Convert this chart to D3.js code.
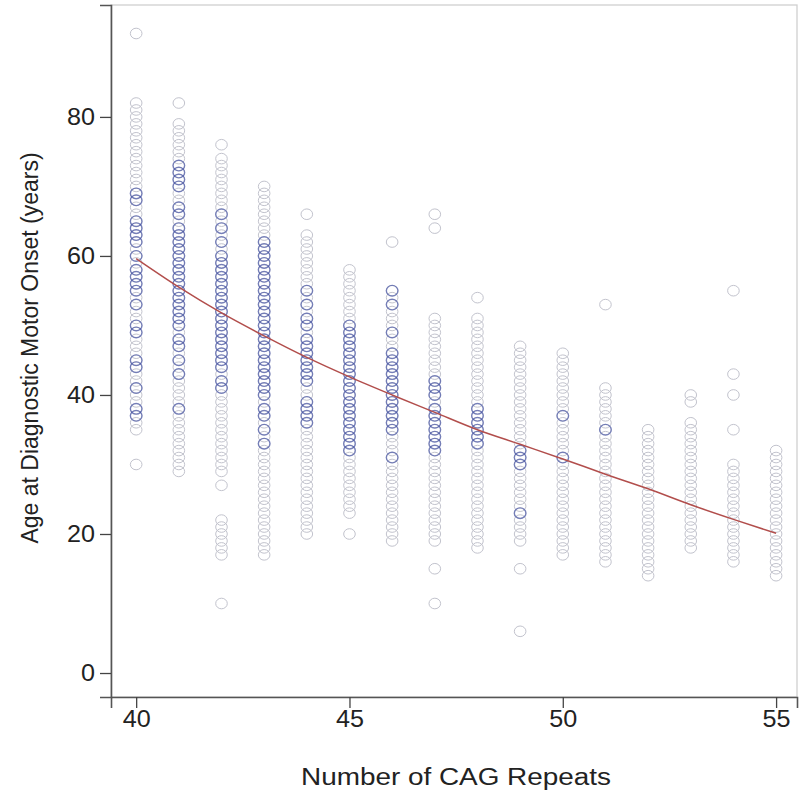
<!DOCTYPE html>
<html><head><meta charset="utf-8">
<script src="https://cdn.jsdelivr.net/npm/d3@7"></script>
<style>body{margin:0;background:#fff;}svg{display:block;font-family:"Liberation Sans",Arial,sans-serif;}</style>
</head><body><svg id="c" width="800" height="796"></svg>
<script>
const cagRepeats = [40,41,42,43,44,45,46,47,48,49,50,51,52,53,54,55];
const greyAges = [
  [92,82,81,80,79,78,77,76,75,74,73,72,71,70,69,68,67,66,65,64,63,62,61,60,59,58,57,56,55,54,53,52,51,50,49,48,47,46,45,44,43,42,41,40,39,38,37,36,35,30],
  [82,79,78,77,76,75,74,73,72,71,70,69,68,67,66,65,64,63,62,61,60,59,58,57,56,55,54,53,52,51,50,49,48,47,46,45,44,43,42,41,40,39,38,37,36,35,34,33,32,31,30,29],
  [76,74,73,72,71,70,69,68,67,66,65,64,63,62,61,60,59,58,57,56,55,54,53,52,51,50,49,48,47,46,45,44,43,42,41,40,39,38,37,36,35,34,33,32,31,30,29,27,22,21,20,19,18,17,10],
  [70,69,68,67,66,65,64,63,62,61,60,59,58,57,56,55,54,53,52,51,50,49,48,47,46,45,44,43,42,41,40,39,38,37,36,35,34,33,32,31,30,29,28,27,26,25,24,23,22,21,20,19,18,17],
  [66,63,62,61,60,59,58,57,56,55,54,53,52,51,50,49,48,47,46,45,44,43,42,41,40,39,38,37,36,35,34,33,32,31,30,29,28,27,26,25,24,23,22,21,20],
  [58,57,56,55,54,53,52,51,50,49,48,47,46,45,44,43,42,41,40,39,38,37,36,35,34,33,32,31,30,29,28,27,26,25,24,23,20],
  [62,55,54,53,52,51,50,49,48,47,46,45,44,43,42,41,40,39,38,37,36,35,34,33,32,31,30,29,28,27,26,25,24,23,22,21,20,19],
  [66,64,51,50,49,48,47,46,45,44,43,42,41,40,39,38,37,36,35,34,33,32,31,30,29,28,27,26,25,24,23,22,21,20,19,15,10],
  [54,51,50,49,48,47,46,45,44,43,42,41,40,39,38,37,36,35,34,33,32,31,30,29,28,27,26,25,24,23,22,21,20,19,18],
  [47,46,45,44,43,42,41,40,39,38,37,36,35,34,33,32,31,30,29,28,27,26,25,24,23,22,21,20,19,15,6],
  [46,45,44,43,42,41,40,39,38,37,36,35,34,33,32,31,30,29,28,27,26,25,24,23,22,21,20,19,18,17],
  [53,41,40,39,38,37,36,35,34,33,32,31,30,29,28,27,26,25,24,23,22,21,20,19,18,17,16],
  [35,34,33,32,31,30,29,28,27,26,25,24,23,22,21,20,19,18,17,16,15,14],
  [40,39,36,35,34,33,32,31,30,29,28,27,26,25,24,23,22,21,20,19,18],
  [55,43,40,35,30,29,28,27,26,25,24,23,22,21,20,19,18,17,16],
  [32,31,30,29,28,27,26,25,24,23,22,21,20,19,18,17,16,15,14]
];
const blueAges = [
  [69,68,65,64,63,62,60,58,57,56,55,53,50,49,45,44,41,38,37],
  [73,72,71,70,67,66,64,63,62,61,60,59,58,57,56,55,54,53,52,51,50,48,47,45,43,38],
  [66,64,62,60,59,58,57,56,55,54,53,52,51,50,49,48,47,46,45,44,42,41],
  [62,61,60,59,58,57,56,55,54,53,52,51,50,49,48,47,46,45,44,43,42,41,40,38,37,35,33],
  [55,53,51,50,48,47,46,45,44,43,42,39,38,37,36],
  [50,49,48,47,46,45,44,43,42,41,40,39,38,37,36,35,34,33,32],
  [55,53,49,46,45,44,43,42,41,40,39,38,37,36,35,31],
  [42,41,40,38,37,36,35,34,33,32],
  [38,37,36,35,34,33],
  [32,31,30,23],
  [37,31],
  [35],
  [],[],[],[]
];
const fitAges = [59.6,55.5,51.8,48.5,45.4,42.6,40.0,37.5,35.0,32.9,30.8,28.6,26.5,24.2,22.1,20.1];
const xTicks = [40,45,50,55];
const yTicks = [0,20,40,60,80];
const xTitle = "Number of CAG Repeats";
const yTitle = "Age at Diagnostic Motor Onset (years)";

const svg = d3.select("#c");
const L = 111, R = 797, T = 5, B = 697;
const x = d3.scaleLinear().domain([39.41, 55.49]).range([L, R]);
const y = d3.scaleLinear().domain([-3.45, 96.1]).range([B, T]);
const FONT = '"Liberation Sans",Arial,sans-serif';

// frame
svg.append("rect").attr("x", L).attr("y", T).attr("width", R - L).attr("height", B - T)
  .attr("fill", "none").attr("stroke", "#d0d0d0").attr("stroke-width", 1.3);

const greyPts = [], bluePts = [];
cagRepeats.forEach((c, i) => {
  greyAges[i].forEach(a => greyPts.push({c, a}));
  blueAges[i].forEach(a => bluePts.push({c, a}));
});
svg.append("g").selectAll("ellipse").data(greyPts).join("ellipse")
  .attr("cx", d => x(d.c)).attr("cy", d => y(d.a)).attr("rx", 5.8).attr("ry", 5.3)
  .attr("fill", "none").attr("stroke", "#c2c3cd").attr("stroke-width", 1);
svg.append("g").selectAll("ellipse").data(bluePts).join("ellipse")
  .attr("cx", d => x(d.c)).attr("cy", d => y(d.a)).attr("rx", 5.8).attr("ry", 5.3)
  .attr("fill", "none").attr("stroke", "#3f4ea3").attr("stroke-opacity", 0.62).attr("stroke-width", 1.4);

svg.append("path").datum(cagRepeats.map((c, i) => [c, fitAges[i]]))
  .attr("d", d3.line().x(d => x(d[0])).y(d => y(d[1])).curve(d3.curveMonotoneX))
  .attr("fill", "none").attr("stroke", "#b24e4c").attr("stroke-width", 1.5);

// axes
const xAxis = svg.append("g").attr("transform", `translate(0,${B})`)
  .call(d3.axisBottom(x).tickValues(xTicks).tickSize(11).tickPadding(3));
const yAxis = svg.append("g").attr("transform", `translate(${L},0)`)
  .call(d3.axisLeft(y).tickValues(yTicks).tickSize(11).tickPadding(5));
[xAxis, yAxis].forEach(g => {
  g.select(".domain").attr("stroke", "#555").attr("stroke-width", 1.6);
  g.selectAll(".tick line").attr("stroke", "#444").attr("stroke-width", 1.3);
  g.selectAll(".tick text").attr("fill", "#222").style("font-size", "23px")
   .style("font-family", FONT)
   .attr("textLength", d => String(d).length * 14)
   .attr("lengthAdjust", "spacingAndGlyphs");
});

svg.append("text").attr("x", 456).attr("y", 785).attr("text-anchor", "middle")
  .attr("fill", "#222").style("font-size", "23px").style("font-family", FONT)
  .attr("textLength", 310).attr("lengthAdjust", "spacingAndGlyphs").text(xTitle);
svg.append("text").attr("transform", "translate(38,348) rotate(-90)").attr("text-anchor", "middle")
  .attr("fill", "#222").style("font-size", "23px").style("font-family", FONT).text(yTitle);
</script></body></html>
